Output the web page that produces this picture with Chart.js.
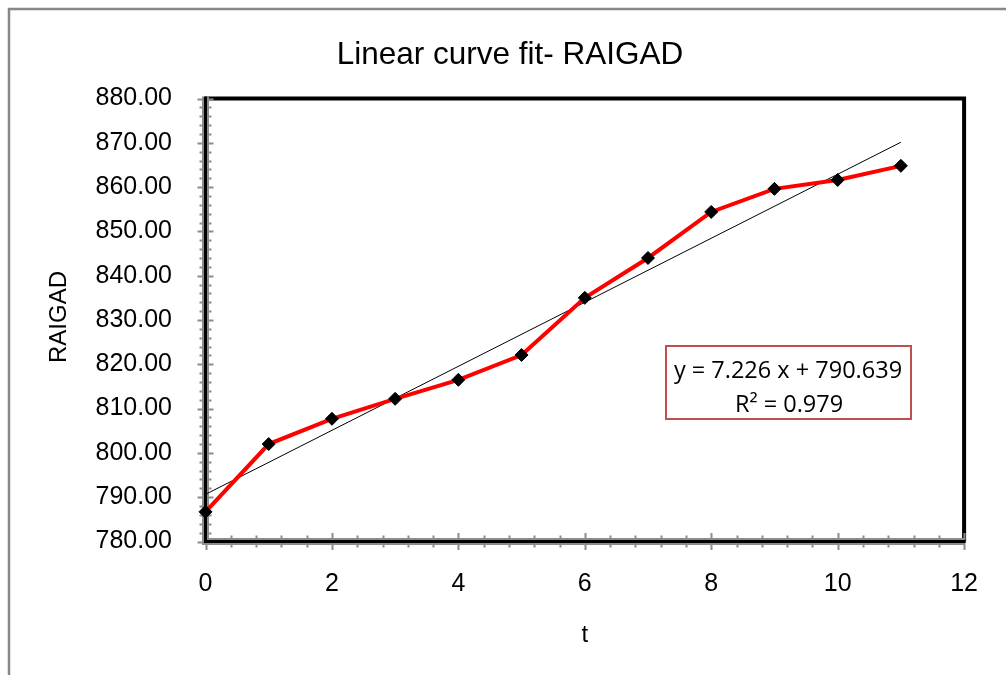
<!DOCTYPE html>
<html>
<head>
<meta charset="utf-8">
<script src="https://cdn.jsdelivr.net/npm/chart.js@4/dist/chart.umd.min.js"></script>
<style>
  html, body { margin: 0; padding: 0; background: #fff; }
  #wrap { width: 1006px; height: 675px; position: relative; }
</style>
</head>
<body>
<div id="wrap"><canvas id="c" width="1006" height="675"></canvas></div>
<script>
// ---- data ----
const tValues = [0, 1, 2, 3, 4, 5, 6, 7, 8, 9, 10, 11];
const raigadValues = [786.7, 802.0, 807.7, 812.2, 816.5, 822.1, 835.0, 844.0, 854.4, 859.6, 861.6, 864.8];
const trendT = [0, 11];
const trendValues = [790.639, 870.125];
const chartTitle = 'Linear curve fit- RAIGAD';
const xTitle = 't';
const yTitle = 'RAIGAD';
const equationLines = ['y = 7.226 x + 790.639', 'R\u00B2 = 0.979'];
const xMin = 0, xMax = 12, xMajor = 2, xMinor = 0.4;
const yMin = 780, yMax = 880, yMajor = 10, yMinor = 2;

const AX_FONT = '"Liberation Sans", Arial, sans-serif';

const decor = {
  id: 'decor',
  beforeDraw(chart) {
    const ctx = chart.ctx;
    ctx.save();
    ctx.fillStyle = '#fff';
    ctx.fillRect(0, 0, chart.width, chart.height);
    // outer frame
    ctx.strokeStyle = '#878787';
    ctx.lineWidth = 2.5;
    ctx.beginPath();
    ctx.moveTo(9, 675);
    ctx.lineTo(9, 9);
    ctx.lineTo(1006, 9);
    ctx.stroke();
    // title
    ctx.fillStyle = '#000';
    ctx.font = '31.5px ' + AX_FONT;
    ctx.textAlign = 'center';
    ctx.textBaseline = 'alphabetic';
    ctx.fillText(chartTitle, 510, 64);
    // x title
    ctx.font = '24px ' + AX_FONT;
    const ca = chart.chartArea;
    ctx.fillText(xTitle, (ca.left + ca.right) / 2, 642);
    // y title
    ctx.save();
    ctx.translate(66, 317);
    ctx.rotate(-Math.PI / 2);
    ctx.fillText(yTitle, 0, 0);
    ctx.restore();
    ctx.restore();
  },
  beforeDatasetsDraw(chart) {
    const ctx = chart.ctx;
    const ca = chart.chartArea;
    const xs = chart.scales.x, ys = chart.scales.y;
    ctx.save();
    // plot border (top/right thick black)
    ctx.strokeStyle = '#000';
    ctx.lineWidth = 4;
    ctx.beginPath();
    ctx.moveTo(ca.left, ca.top);
    ctx.lineTo(ca.right, ca.top);
    ctx.lineTo(ca.right, ca.bottom);
    ctx.stroke();
    // axis lines: grey band with black core
    ctx.strokeStyle = '#8c8c8c';
    ctx.lineWidth = 7;
    ctx.beginPath();
    ctx.moveTo(ca.left, ca.top - 2);
    ctx.lineTo(ca.left, ca.bottom);
    ctx.lineTo(ca.right, ca.bottom);
    ctx.stroke();
    // ticks
    ctx.strokeStyle = '#8c8c8c';
    ctx.lineWidth = 2;
    ctx.beginPath();
    const nY = Math.round((yMax - yMin) / yMinor);
    for (let i = 0; i <= nY; i++) {
      const v = yMin + i * yMinor;
      const py = Math.round(ys.getPixelForValue(v)) + 0.5;
      const major = Math.abs((v - yMin) / yMajor - Math.round((v - yMin) / yMajor)) < 1e-6;
      const h = major ? 8 : 6;
      ctx.moveTo(ca.left - h, py);
      ctx.lineTo(ca.left + h, py);
    }
    const nX = Math.round((xMax - xMin) / xMinor);
    for (let i = 0; i <= nX; i++) {
      const v = xMin + i * xMinor;
      const px = Math.round(xs.getPixelForValue(v)) + 0.5;
      const major = Math.abs((v - xMin) / xMajor - Math.round((v - xMin) / xMajor)) < 1e-6;
      const h = major ? 8.5 : 6;
      ctx.moveTo(px, ca.bottom - h);
      ctx.lineTo(px, ca.bottom + h);
    }
    ctx.stroke();
    // black core lines
    ctx.strokeStyle = '#000';
    ctx.lineWidth = 3;
    ctx.beginPath();
    ctx.moveTo(ca.left, ca.top - 2);
    ctx.lineTo(ca.left, ca.bottom);
    ctx.lineTo(ca.right + 1.5, ca.bottom);
    ctx.stroke();
    ctx.restore();
  },
  afterDraw(chart) {
    const ctx = chart.ctx;
    ctx.save();
    ctx.fillStyle = '#fff';
    ctx.fillRect(666, 346, 245, 73);
    ctx.strokeStyle = '#c0504d';
    ctx.lineWidth = 2;
    ctx.strokeRect(666, 346, 245, 73);
    ctx.fillStyle = '#000';
    ctx.font = '23.5px "Open Sans", "Noto Sans", sans-serif';
    ctx.textAlign = 'center';
    ctx.textBaseline = 'alphabetic';
    ctx.fillText(equationLines[0], 788, 378);
    ctx.fillText(equationLines[1], 789, 411.5);
    ctx.restore();
  }
};

const seriesPts = tValues.map((t, i) => ({ x: t, y: raigadValues[i] }));
const trendPts = trendT.map((t, i) => ({ x: t, y: trendValues[i] }));

new Chart(document.getElementById('c'), {
  type: 'scatter',
  data: {
    datasets: [
      {
        label: 'RAIGAD',
        data: seriesPts,
        showLine: true,
        borderColor: '#ff0000',
        borderWidth: 4,
        tension: 0,
        pointStyle: 'rectRot',
        pointRadius: 6.5,
        pointBackgroundColor: '#000',
        pointBorderColor: '#000',
        pointBorderWidth: 1,
        clip: false
      },
      {
        label: 'Linear',
        data: trendPts,
        showLine: true,
        borderColor: '#000',
        borderWidth: 1,
        pointRadius: 0,
        tension: 0,
        clip: false
      }
    ]
  },
  options: {
    responsive: false,
    animation: false,
    events: [],
    layout: { padding: { left: 0, top: 98.5, right: 40.5, bottom: 0 } },
    plugins: {
      legend: { display: false },
      title: { display: false },
      tooltip: { enabled: false }
    },
    scales: {
      x: {
        type: 'linear',
        min: xMin, max: xMax,
        grid: { display: false, drawTicks: false },
        border: { display: false },
        ticks: {
          stepSize: xMajor,
          padding: 28,
          color: '#000',
          font: { family: AX_FONT, size: 25 }
        },
        afterFit(s) { s.height = 133.5; }
      },
      y: {
        type: 'linear',
        min: yMin, max: yMax,
        grid: { display: false, drawTicks: false },
        border: { display: false },
        ticks: {
          stepSize: yMajor,
          padding: 33.5,
          color: '#000',
          font: { family: AX_FONT, size: 25 },
          callback: (v) => Number(v).toFixed(2)
        },
        afterFit(s) { s.width = 205.5; }
      }
    }
  },
  plugins: [decor]
});
</script>
</body>
</html>
